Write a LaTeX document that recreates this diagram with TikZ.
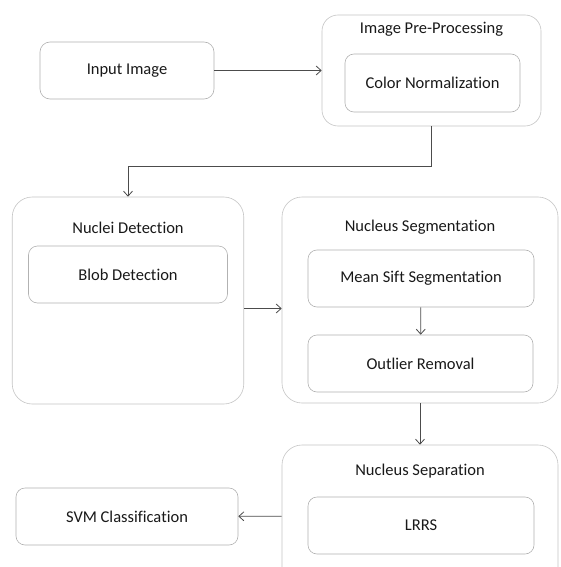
\documentclass[tikz,border=0pt]{standalone}
\usepackage{fontspec}
\setmainfont{Carlito}[Ligatures=NoCommon]
\usepackage{xcolor}
\usepackage{tikz}
\usetikzlibrary{arrows.meta}

\begin{document}
\begin{tikzpicture}[x=1pt,y=-1pt,
  every node/.style={font=\fontsize{16.5}{19}\selectfont,text=black!90,inner sep=0pt},
  stage/.style={draw=gray!45,line width=0.6pt,rounded corners=20pt,minimum width=#1},
  task/.style={draw=gray!60,line width=0.6pt,rounded corners=9pt,minimum height=57pt,minimum width=#1},
  arr/.style={-{Straight Barb[length=5pt,width=9pt]},draw=black!70,line width=0.8pt}]
\fill[white] (0,0) rectangle (560,567);
\useasboundingbox (0,0) rectangle (560,567);
\clip (0,0) rectangle (560,567);
\node[task=174pt,rounded corners=10pt] (input) at (127,70.5) {Input Image};
\node[stage=219pt,minimum height=111pt,rounded corners=16pt] (prep) at (431.5,70.5) {};
\node (preptitle) at (431.5,29) {Image Pre-Processing};
\node[task=175pt,minimum height=58pt] (colnorm) at (432.5,83) {Color Normalization};
\node[stage=231.5pt,minimum height=207pt] (nuclei) at (128,300.5) {};
\node (nucleititle) at (128,227.5) {Nuclei Detection};
\node[task=199pt] (blob) at (128,274.5) {Blob Detection};
\node[stage=276pt,minimum height=206pt] (seg) at (420,300) {};
\node (segtitle) at (420,227.5) {Nucleus Segmentation};
\node[task=226pt] (meanshift) at (421,278.5) {Mean Sift Segmentation};
\node[task=225pt] (outlier) at (420.5,363.5) {Outlier Removal};
\node[stage=276pt,minimum height=142pt] (sep) at (420,516) {};
\node (septitle) at (420,471) {Nucleus Separation};
\node[task=226pt] (lrrs) at (421,525.5) {LRRS};
\node[task=222pt] (svm) at (127,516.5) {SVM Classification};
% connectors
\draw[arr] (input) -- (prep);
\draw[arr] (prep.south) -- ++(0,40) -| (nuclei.north);
\draw[arr] ([yshift=-8pt]nuclei.east) -- ([yshift=-8pt]nuclei.east -| seg.west);
\draw[arr] (meanshift) -- (outlier);
\draw[arr] (seg) -- (sep);
\draw[arr] (sep) -- (svm);
\end{tikzpicture}
\end{document}
